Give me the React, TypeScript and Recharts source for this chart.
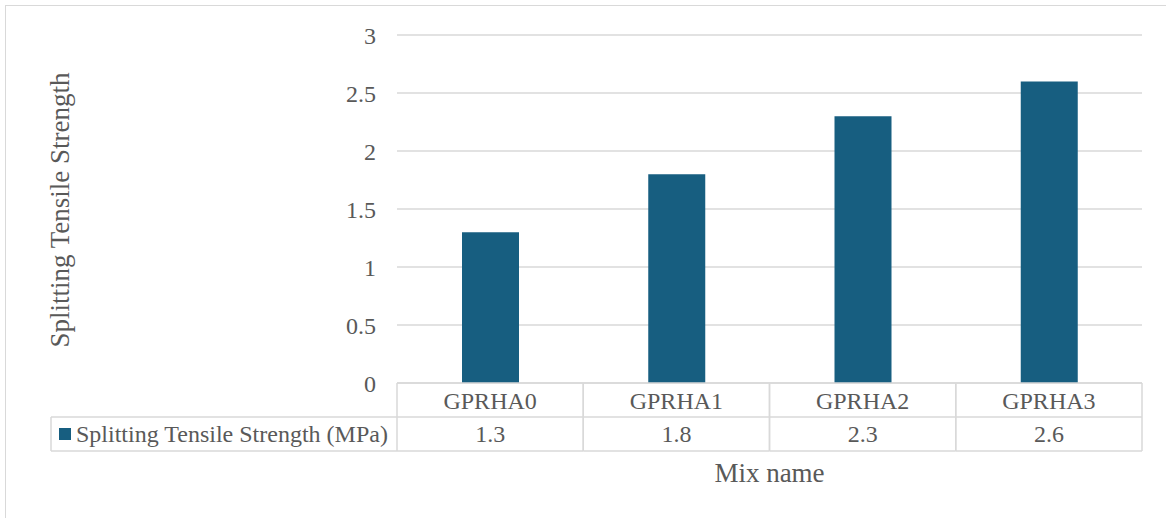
import { Bar, BarChart, CartesianGrid, Label, XAxis, YAxis } from 'recharts'

const mixNames = ['GPRHA0', 'GPRHA1', 'GPRHA2', 'GPRHA3']
const tensileStrength = [1.3, 1.8, 2.3, 2.6]
const yTicks = [0, 0.5, 1, 1.5, 2, 2.5, 3]
const seriesName = 'Splitting Tensile Strength (MPa)'

const data = mixNames.map((name, i) => ({ name, value: tensileStrength[i] }))

const W = 1166
const H = 518
const MARGIN = { top: 35, right: 24, bottom: 35, left: 0 }
const Y_AXIS_W = 397
const PLOT_W = W - Y_AXIS_W - MARGIN.right
const ROW_H = 34
const LEGEND_X = 51

const BAR_COLOR = '#175E80'
const GRID = '#d9d9d9'
const TEXT = '#595959'
const FONT = "'Liberation Serif', 'Times New Roman', serif"
const label = { fill: TEXT, fontSize: 24, fontFamily: FONT }
const title = { fill: TEXT, fontSize: 27, fontFamily: FONT }

// data table under the plot: category row, then the value row with the legend key
function TableTick(props: any) {
  const { x, y, payload, index } = props
  const band = PLOT_W / mixNames.length
  const left = x - band / 2
  const right = x + band / 2
  const top = y
  const lines = [
    [left, top, left, top + ROW_H * 2],
    [right, top, right, top + ROW_H * 2],
    [left, top + ROW_H, right, top + ROW_H],
    [left, top + ROW_H * 2, right, top + ROW_H * 2],
  ]
  return (
    <g>
      {lines.map(([x1, y1, x2, y2], k) => (
        <line key={k} x1={x1} y1={y1} x2={x2} y2={y2} stroke={GRID} strokeWidth={1.5} />
      ))}
      <text x={x} y={top + 18} textAnchor="middle" dominantBaseline="central" style={label}>
        {payload.value}
      </text>
      <text x={x} y={top + ROW_H + 17} textAnchor="middle" dominantBaseline="central" style={label}>
        {tensileStrength[index]}
      </text>
      {index === 0 ? (
        <g>
          <line x1={LEGEND_X} y1={top + ROW_H} x2={left} y2={top + ROW_H} stroke={GRID} strokeWidth={1.5} />
          <line x1={LEGEND_X} y1={top + ROW_H * 2} x2={left} y2={top + ROW_H * 2} stroke={GRID} strokeWidth={1.5} />
          <line x1={LEGEND_X} y1={top + ROW_H} x2={LEGEND_X} y2={top + ROW_H * 2} stroke={GRID} strokeWidth={1.5} />
          <rect x={LEGEND_X + 8} y={top + ROW_H + 11} width={12} height={12} fill={BAR_COLOR} />
          <text x={LEGEND_X + 25} y={top + ROW_H + 17} dominantBaseline="central" style={label}>
            {seriesName}
          </text>
        </g>
      ) : null}
    </g>
  )
}

export default function App() {
  return (
    <div style={{ position: 'absolute', left: 0, top: 0, width: W, height: H, overflow: 'hidden', background: '#fff', fontFamily: FONT }}>
      <div style={{ position: 'absolute', left: 5, top: 5, width: W + 20, height: H + 20, border: `1.5px solid ${GRID}` }} />
      <BarChart width={W} height={H} data={data} margin={MARGIN} style={{ position: 'absolute', left: 0, top: 0 }}>
        <CartesianGrid vertical={false} stroke={GRID} strokeWidth={1.5} />
        <YAxis
          domain={[0, 3]}
          ticks={yTicks}
          width={Y_AXIS_W}
          axisLine={false}
          tickLine={false}
          tickSize={0}
          tickMargin={21}
          tick={{ ...label, style: label }}
        >
          <Label
            content={({ viewBox }: any) => (
              <text
                x={60}
                y={viewBox.y + viewBox.height / 2 + 1}
                transform={`rotate(-90 60 ${viewBox.y + viewBox.height / 2 + 1})`}
                textAnchor="middle"
                dominantBaseline="central"
                style={title}
              >
                Splitting Tensile Strength
              </text>
            )}
          />
        </YAxis>
        <XAxis
          dataKey="name"
          height={100}
          axisLine={{ stroke: GRID, strokeWidth: 1.5 }}
          tickLine={false}
          tickSize={0}
          tickMargin={0}
          interval={0}
          tick={<TableTick />}
        >
          <Label
            content={({ viewBox }: any) => (
              <text
                x={viewBox.x + viewBox.width / 2}
                y={viewBox.y + 90}
                textAnchor="middle"
                dominantBaseline="central"
                style={title}
              >
                Mix name
              </text>
            )}
          />
        </XAxis>
        <Bar dataKey="value" name={seriesName} fill={BAR_COLOR} barSize={57} isAnimationActive={false} />
      </BarChart>
    </div>
  )
}
